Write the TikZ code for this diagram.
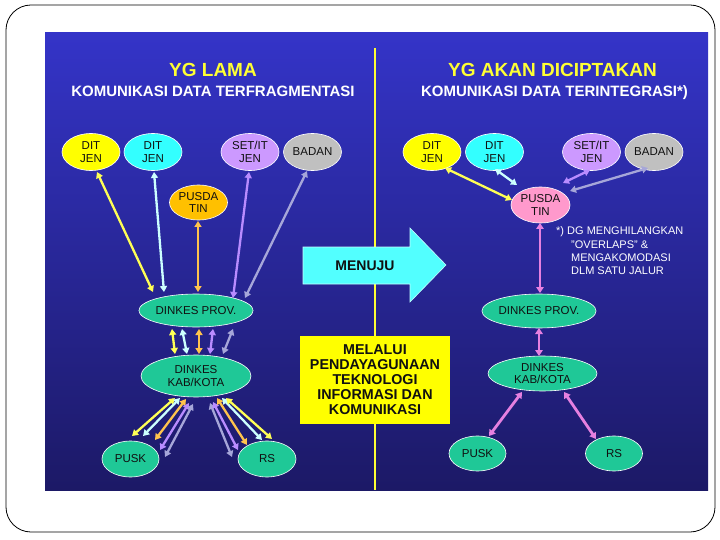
\documentclass[tikz,border=0pt]{standalone}
\usepackage{fontspec}
\setmainfont{Liberation Sans}
\usetikzlibrary{shapes.geometric,arrows.meta,calc}
\definecolor{bgTop}{HTML}{3434C8}
\definecolor{bgBot}{HTML}{1C1966}
\definecolor{vline}{HTML}{FFFF33}
\definecolor{cYel}{HTML}{FFFF00}
\definecolor{cCyan}{HTML}{33FFFF}
\definecolor{cLav}{HTML}{CC99FF}
\definecolor{cGray}{HTML}{C0C0C0}
\definecolor{cOrg}{HTML}{FFC000}
\definecolor{cGrn}{HTML}{1FC897}
\definecolor{cPink}{HTML}{FF99CC}
\definecolor{aYel}{HTML}{FFFF55}
\definecolor{aCyan}{HTML}{CCFFFF}
\definecolor{aOrg}{HTML}{FFC34D}
\definecolor{aLav}{HTML}{B98CFF}
\definecolor{aGray}{HTML}{A6A6D9}
\definecolor{aPink}{HTML}{E680E0}
\definecolor{txt}{HTML}{101010}
\begin{document}
\begin{tikzpicture}[x=1pt,y=-1pt,
  el/.style={ellipse, draw=white, line width=0.6pt, inner sep=0pt, align=center,
    text=txt, font=\fontsize{11.5}{12.5}\selectfont},
  smallel/.style={el, minimum width=58pt, minimum height=37pt},
  bigel/.style={el, minimum width=109pt, minimum height=34pt},
  dbl/.style={line width=2.3pt, {Triangle[length=6pt,width=7pt]}-{Triangle[length=6pt,width=7pt]}},
  dblp/.style={line width=2.8pt, {Triangle[length=6pt,width=7.5pt]}-{Triangle[length=6pt,width=7.5pt]}},
  ttl/.style={anchor=base, text=vline, font=\bfseries\fontsize{19}{19}\selectfont, inner sep=0pt},
  sub/.style={anchor=base, text=white, font=\bfseries\fontsize{15}{15}\selectfont, inner sep=0pt},
  notetxt/.style={anchor=base west, text=white, font=\fontsize{11}{13}\selectfont, inner sep=0pt}
]
\useasboundingbox (0,0) rectangle (720,540);
% slide frame
\draw[black, line width=0.8pt, rounded corners=25pt] (6,5) rectangle (715,532);
% panel
\shade[top color=bgTop, bottom color=bgBot] (45,33) rectangle (708,490);
% divider
\draw[vline, line width=2.5pt] (375,48) -- (375,490);

% titles
\node[ttl] (t1) at (213,77) {YG LAMA};
\node[sub] (s1) at (213,96.5) {KOMUNIKASI DATA TERFRAGMENTASI};
\node[ttl] (t2) at (552.5,77) {YG AKAN DICIPTAKAN};
\node[sub] (s2) at (554.5,96.5) {KOMUNIKASI DATA TERINTEGRASI*)};

% ---------- left nodes
\node[smallel, fill=cYel] (dj1L) at (91,152) {DIT\\JEN};
\node[smallel, fill=cCyan] (dj2L) at (153,152) {DIT\\JEN};
\node[smallel, fill=cLav] (setL) at (250,152) {SET/IT\\JEN};
\node[smallel, fill=cGray] (badL) at (312.5,152) {BADAN};
\node[smallel, fill=cOrg, minimum height=35pt] (pusdaL) at (198.5,202.5) {PUSDA\\TIN};
\node[bigel, fill=cGrn, minimum height=33pt] (provL) at (196,310.5) {DINKES PROV.};
\node[bigel, fill=cGrn, minimum width=110pt, minimum height=42pt] (kabL) at (196,376) {DINKES\\KAB/KOTA};
\node[smallel, fill=cGrn, minimum width=57pt, minimum height=36pt] (puskL) at (130.5,459) {PUSK};
\node[smallel, fill=cGrn, minimum width=58pt, minimum height=36pt] (rsL) at (267,459) {RS};

% ---------- right nodes
\node[smallel, fill=cYel] (dj1R) at (432,152) {DIT\\JEN};
\node[smallel, fill=cCyan] (dj2R) at (494.5,152) {DIT\\JEN};
\node[smallel, fill=cLav] (setR) at (591.5,152) {SET/IT\\JEN};
\node[smallel, fill=cGray] (badR) at (654,152) {BADAN};
\node[smallel, fill=cPink, minimum width=59pt, minimum height=36pt] (pusdaR) at (540.5,205) {PUSDA\\TIN};
\node[bigel, fill=cGrn] (provR) at (539,311) {DINKES PROV.};
\node[bigel, fill=cGrn, minimum height=35pt] (kabR) at (542.5,373.5) {DINKES\\KAB/KOTA};
\node[smallel, fill=cGrn, minimum width=57pt, minimum height=35pt] (puskR) at (477.5,453.5) {PUSK};
\node[smallel, fill=cGrn, minimum width=57pt, minimum height=35pt] (rsR) at (614,453.5) {RS};

% ---------- left connectors
\draw[dbl, aYel]  ($(dj1L)+(6,20)$)     -- ($(provL)+(-43,-18.5)$);
\draw[dbl, aCyan] ($(dj2L)+(1,20)$)     -- ($(provL)+(-32,-18.5)$);
\draw[dbl, aOrg]  ($(pusdaL)+(-0.5,18.5)$) -- ($(provL)+(2,-18.5)$);
\draw[dbl, aLav]  ($(setL)+(-1,20)$)    -- ($(provL)+(37,-12.5)$);
\draw[dbl, aGray] ($(badL)+(-5.5,19)$)  -- ($(provL)+(49,-12.5)$);

\draw[dbl, aYel]  ($(provL)+(-24,18.5)$) -- ($(kabL)+(-21,-22)$);
\draw[dbl, aCyan] ($(provL)+(-14,18.5)$) -- ($(kabL)+(-9,-22)$);
\draw[dbl, aOrg]  ($(provL)+(3,18.5)$)   -- ($(kabL)+(3,-22)$);
\draw[dbl, aLav]  ($(provL)+(17,18.5)$)  -- ($(kabL)+(14,-22)$);
\draw[dbl, aGray] ($(provL)+(37,18.5)$)  -- ($(kabL)+(27,-22)$);

\draw[dbl, aYel]  ($(kabL)+(-21,22)$) -- ($(puskL)+(1.5,-23)$);
\draw[dbl, aCyan] ($(kabL)+(-16,22)$) -- ($(puskL)+(12.5,-23)$);
\draw[dbl, aOrg]  ($(kabL)+(-10,23)$) -- ($(puskL)+(24.5,-19)$);
\draw[dbl, aLav]  ($(kabL)+(-7,27)$)  -- ($(puskL)+(29.5,-9)$);
\draw[dbl, aGray] ($(kabL)+(-3,28)$)  -- ($(puskL)+(34.5,-2)$);

\draw[dbl, aGray] ($(kabL)+(14,27)$) -- ($(rsL)+(-35,-2)$);
\draw[dbl, aLav]  ($(kabL)+(17,26)$) -- ($(rsL)+(-29,-9)$);
\draw[dbl, aOrg]  ($(kabL)+(21,22)$) -- ($(rsL)+(-20,-14)$);
\draw[dbl, aCyan] ($(kabL)+(26,22)$) -- ($(rsL)+(-5,-19)$);
\draw[dbl, aYel]  ($(kabL)+(30,22)$) -- ($(rsL)+(5,-20)$);

% ---------- right connectors
\draw[dbl, aYel]  ($(dj1R)+(13,16)$)   -- ($(pusdaR)+(-28.5,-5)$);
\draw[dbl, aCyan] ($(dj2R)+(0.5,17)$)  -- ($(pusdaR)+(-23.5,-20)$);
\draw[dbl, aLav]  ($(setR)+(-1.5,18)$) -- ($(pusdaR)+(22.5,-22)$);
\draw[dbl, aGray] ($(badR)+(-6,16)$)   -- ($(pusdaR)+(29.5,-14)$);

\draw[dblp, aPink] ($(pusdaR)+(-0.5,18)$) -- ($(provR)+(1,-18)$);
\draw[dblp, aPink] ($(provR)+(0,17)$)     -- ($(kabR)+(-3.5,-17.5)$);
\draw[dblp, aPink] ($(kabR)+(-20.5,18.5)$) -- ($(puskR)+(11.5,-17.5)$);
\draw[dblp, aPink] ($(kabR)+(21.5,18.5)$)  -- ($(rsR)+(-18,-14.5)$);

% note
\node[notetxt] (n1) at (556,235) {*) DG MENGHILANGKAN};
\node[notetxt] (n2) at (571,248) {"OVERLAPS" \&};
\node[notetxt] (n3) at (571,261) {MENGAKOMODASI};
\node[notetxt] (n4) at (571,274) {DLM SATU JALUR};

% MENUJU arrow
\fill[cCyan!85!white, draw=white!70!cCyan, line width=0.6pt]
  (303,247) -- (410,247) -- (410,228) -- (446,265) -- (410,302) -- (410,284) -- (303,284) -- cycle;
\node[text=txt, font=\bfseries\fontsize{14}{14}\selectfont] (menuju) at (365,265.5) {MENUJU};

% yellow box
\node[fill=cYel, minimum width=150pt, minimum height=88pt, inner sep=0pt, align=center,
  text=txt, font=\bfseries\fontsize{14.3}{15}\selectfont] (box) at (375,379.5)
  {MELALUI\\PENDAYAGUNAAN\\TEKNOLOGI\\INFORMASI DAN\\KOMUNIKASI};
\end{tikzpicture}
\end{document}
